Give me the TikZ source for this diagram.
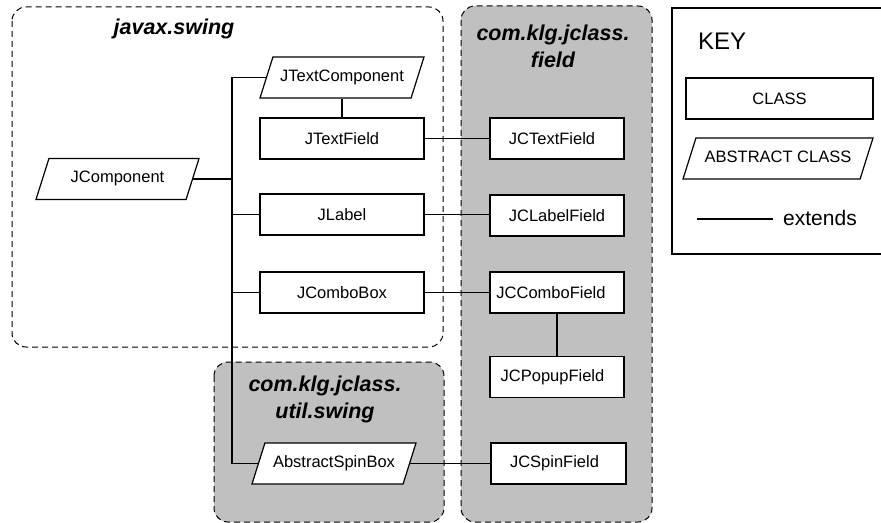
\documentclass[tikz,border=0pt]{standalone}
\usepackage{fontspec}
\setmainfont{Liberation Sans}
\usetikzlibrary{shapes.geometric}
\definecolor{pkggray}{RGB}{192,192,192}
\begin{document}
\begin{tikzpicture}[x=1bp,y=-1bp,
  lw/.style={line width=1.2bp},
  boxfont/.style={font=\fontsize{16.5bp}{19bp}\selectfont},
  classbox/.style={draw, lw, fill=white, rectangle, minimum height=41bp,
    minimum width=164bp, inner sep=0pt, boxfont},
  % fixed text height/depth so the slant follows from the full 41bp height
  abstractbox/.style={draw, lw, fill=white, trapezium, trapezium left angle=72.5,
    trapezium right angle=107.5, trapezium stretches body,
    text height=11.5bp, text depth=3.5bp, inner xsep=0pt, inner ysep=13bp,
    minimum width=164bp, boxfont},
  pkg/.style={draw, line width=1bp, dash pattern=on 6bp off 4bp, rounded corners=14bp},
  pkgtitle/.style={font=\fontsize{21.5bp}{27bp}\selectfont\bfseries\itshape, align=center},
  link/.style={lw}
]
\useasboundingbox (0,0) rectangle (881,523);

% package outlines
\draw[pkg] (12,7) rectangle (443,347);
\draw[pkg, fill=pkggray] (461,6) rectangle (652,522);
\draw[pkg, fill=pkggray] (214,362) rectangle (444,522);

\node[pkgtitle] (tswing) at (174,29) {javax.swing};
\node[pkgtitle] (tfield) at (553,46) {com.klg.jclass.\\field};
\node[pkgtitle] (tutil) at (325,399) {com.klg.jclass.\\util.swing};

% classes in javax.swing
\node[abstractbox, minimum width=163bp] (JComponent) at (117.5,179) {JComponent};
\node[abstractbox] (JTextComponent) at (342,77.5) {JTextComponent};
\node[classbox] (JTextField) at (342,138.5) {JTextField};
\node[classbox] (JLabel) at (342,214.5) {JLabel};
\node[classbox] (JComboBox) at (342,292.5) {JComboBox};

% util.swing
\node[abstractbox] (AbstractSpinBox) at (334,463.5) {AbstractSpinBox};

% com.klg.jclass.field
\node[classbox, minimum width=134bp] (JCTextField) at (557,138.5) {\hspace*{-10bp}JCTextField};
\node[classbox, minimum width=134bp] (JCLabelField) at (557,215.5) {JCLabelField};
\node[classbox, minimum width=134bp] (JCComboField) at (557,292.5) {\hspace*{-12bp}JCComboField};
\node[classbox, minimum width=134bp] (JCPopupField) at (557,377) {\hspace*{-9bp}JCPopupField};
\node[classbox, minimum width=135bp] (JCSpinField) at (558.5,463.5) {\hspace*{-8bp}JCSpinField};

% inheritance lines
\coordinate (trunk) at (232,0);
\draw[link] (JTextComponent.left side) -- (JTextComponent.left side -| trunk)
  -- (AbstractSpinBox.left side -| trunk) -- (AbstractSpinBox.left side);
\draw[link] (JComponent.right side) -- (JComponent.right side -| trunk);
\draw[link] (JLabel.west) -- (JLabel.west -| trunk);
\draw[link] (JComboBox.west) -- (JComboBox.west -| trunk);
\draw[link] (JTextField.north) -- (JTextField.north |- JTextComponent.south);
\draw[link] (JTextField.east) -- (JTextField.east -| JCTextField.west);
\draw[link] (JLabel.east) -- (JLabel.east -| JCLabelField.west);
\draw[link] (JComboBox.east) -- (JComboBox.east -| JCComboField.west);
\draw[link] (JCComboField.south) -- (JCPopupField.north);
\draw[link] (AbstractSpinBox.right side) -- (AbstractSpinBox.right side -| JCSpinField.west);

% key
\draw[lw] (882,8) -- (672,8) -- (672,254) -- (882,254);
\node[anchor=base west, inner sep=0pt, font=\fontsize{24bp}{28bp}\selectfont] (key) at (698,50) {KEY};
\node[classbox, minimum width=187bp] (kclass) at (779.5,98.5) {CLASS};
\node[abstractbox, minimum width=190bp] (kabstract) at (778,158.5) {ABSTRACT CLASS};
\node[anchor=base west, inner sep=0pt, font=\fontsize{21bp}{24bp}\selectfont] (kext) at (783,226) {extends};
\coordinate (kline) at (697,219);
\draw[link] (kline) -- ([xshift=-10bp]kext.west |- kline);
\end{tikzpicture}
\end{document}
